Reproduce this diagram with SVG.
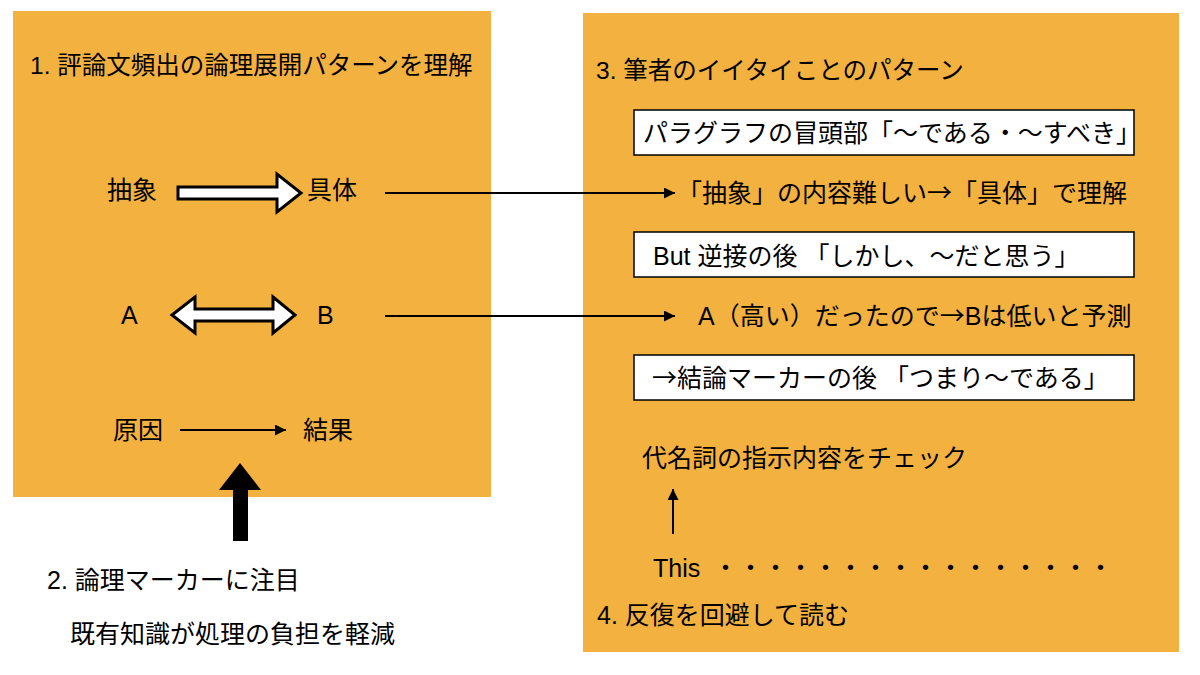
<svg xmlns="http://www.w3.org/2000/svg" width="1200" height="675" viewBox="0 0 1200 675">
  <defs>
    <style>
      .panel { fill: #F3B13F; }
      .box { fill: #FFFFFF; stroke: #000000; stroke-width: 1.5; }
      .t { font-family: "Liberation Sans", "Noto Sans CJK JP", sans-serif; font-size: 25px; fill: #000000; }
      .ttl { font-family: "Liberation Sans", "Noto Sans CJK JP", sans-serif; font-size: 24.5px; fill: #000000; }
      .cjk { font-family: "Noto Sans CJK JP", sans-serif; }
      .line { stroke: #000000; stroke-width: 2; fill: none; }
      .block { fill: #FFFFFF; stroke: #000000; stroke-width: 3; stroke-linejoin: miter; }
    </style>
    <marker id="ah" viewBox="0 0 10 10" refX="10" refY="5" markerWidth="7" markerHeight="5.5" markerUnits="strokeWidth" orient="auto">
      <path d="M0,0 L10,5 L0,10 z" fill="#000000"/>
    </marker>
  </defs>

  <rect width="1200" height="675" fill="#FFFFFF"/>

  <g id="panel-left">
    <rect class="panel" x="13" y="11" width="478" height="486"/>
    <text class="ttl" x="30" y="74">1. 評論文頻出の論理展開パターンを理解</text>
  </g>

  <g id="panel-right">
    <rect class="panel" x="583" y="13" width="596" height="639"/>
    <text class="ttl" x="596" y="79">3. 筆者のイイタイことのパターン</text>
  </g>

  <g id="node-abstract"><text class="t" x="107" y="199">抽象</text></g>
  <g id="node-concrete"><text class="t" x="307" y="199">具体</text></g>
  <g id="node-a"><text class="t" x="121" y="324">A</text></g>
  <g id="node-b"><text class="t" x="317" y="324">B</text></g>
  <g id="node-cause"><text class="t" x="113" y="439">原因</text></g>
  <g id="node-effect"><text class="t" x="303" y="439">結果</text></g>

  <g id="node-marker">
    <text class="t" x="47" y="589">2. 論理マーカーに注目</text>
    <text class="t" x="70" y="643">既有知識が処理の負担を軽減</text>
  </g>

  <g id="node-box1">
    <rect class="box" x="634" y="110" width="500" height="45"/>
    <text class="t" x="643" y="142">パラグラフの冒頭部「〜である・〜すべき」</text>
  </g>
  <g id="node-concrete-note"><text class="t" x="677" y="202">「抽象」の内容難しい<tspan class="cjk">→</tspan>「具体」で理解</text></g>
  <g id="node-box2">
    <rect class="box" x="634" y="232" width="500" height="45"/>
    <text class="t" x="653" y="265">But 逆接の後 「しかし、〜だと思う」</text>
  </g>
  <g id="node-ab-note"><text class="t" x="698" y="325">A（高い）だったので<tspan class="cjk">→</tspan>Bは低いと予測</text></g>
  <g id="node-box3">
    <rect class="box" x="634" y="355" width="500" height="45"/>
    <text class="t" x="652" y="387"><tspan class="cjk">→</tspan>結論マーカーの後 「つまり〜である」</text>
  </g>
  <g id="node-pronoun"><text class="t" x="642" y="467">代名詞の指示内容をチェック</text></g>
  <g id="node-this">
    <text class="t" x="653" y="577">This</text>
    <text class="t" x="713" y="577" textLength="400" lengthAdjust="spacing">・・・・・・・・・・・・・・・・</text>
  </g>
  <g id="node-avoid"><text class="t" x="597" y="624">4. 反復を回避して読む</text></g>

  <g id="connectors">
    <polygon class="block" points="178,187 277,187 277,174 301,193 277,212 277,199 178,199"/>
    <polygon class="block" points="172,315 195,297 195,309 273,309 273,297 295,315 273,333 273,321 195,321 195,333"/>
    <line class="line" x1="180" y1="430" x2="286" y2="430" marker-end="url(#ah)"/>
    <polygon points="240,463 261,490 248,490 248,541 233,541 233,490 219,490" fill="#000000"/>
    <line class="line" x1="385" y1="193" x2="675" y2="193" marker-end="url(#ah)"/>
    <line class="line" x1="385" y1="316" x2="675" y2="316" marker-end="url(#ah)"/>
    <line class="line" x1="673" y1="534" x2="673" y2="489" marker-end="url(#ah)"/>
  </g>
</svg>
